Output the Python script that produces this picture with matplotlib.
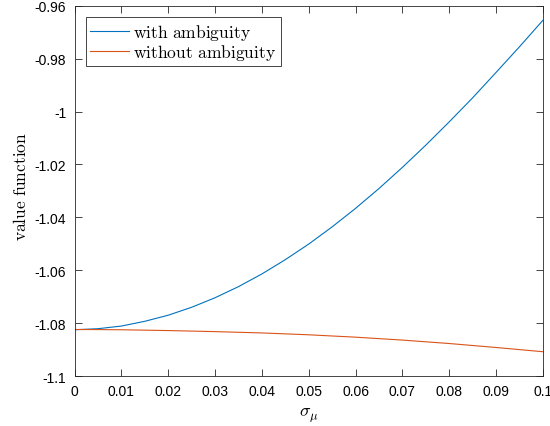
import matplotlib
matplotlib.use("Agg")
import matplotlib.pyplot as plt

# sigma_mu grid and value function
sigma_mu = [0.0, 0.005, 0.01, 0.015, 0.02, 0.025, 0.03, 0.035, 0.04, 0.045, 0.05,
            0.055, 0.06, 0.065, 0.07, 0.075, 0.08, 0.085, 0.09, 0.095, 0.1]
with_amb = [-1.0825, -1.0821, -1.0811, -1.0793, -1.0770, -1.0740, -1.0704, -1.0662,
            -1.0614, -1.0560, -1.0501, -1.0436, -1.0366, -1.0291, -1.0211, -1.0127,
            -1.0039, -0.9948, -0.9852, -0.9755, -0.9655]
without_amb = [-1.0824, -1.08243, -1.0825, -1.08265, -1.0828, -1.0830, -1.0832, -1.08345,
               -1.0837, -1.08405, -1.0844, -1.08485, -1.0853, -1.08585, -1.0864, -1.08705,
               -1.0877, -1.08845, -1.0892, -1.0900, -1.0908]

xticks = [0, 0.01, 0.02, 0.03, 0.04, 0.05, 0.06, 0.07, 0.08, 0.09, 0.1]
xticklabels = ["0", "0.01", "0.02", "0.03", "0.04", "0.05", "0.06", "0.07", "0.08", "0.09", "0.1"]
yticks = [-1.1, -1.08, -1.06, -1.04, -1.02, -1.0, -0.98, -0.96]
yticklabels = ["-1.1", "-1.08", "-1.06", "-1.04", "-1.02", "-1", "-0.98", "-0.96"]

axcol = (0.15, 0.15, 0.15)
plt.rcParams['mathtext.fontset'] = 'cm'

fig = plt.figure(figsize=(5.5, 4.27), dpi=100)
ax = fig.add_axes([0.1355, 0.117, 0.8515, 0.867])

ax.plot(sigma_mu, with_amb, color='#0072BD', linewidth=0.8,
        label=r'$\mathrm{with\ ambiguity}$')
ax.plot(sigma_mu, without_amb, color='#D95319', linewidth=0.8,
        label=r'$\mathrm{without\ ambiguity}$')

ax.set_xlim(0, 0.1)
ax.set_ylim(-1.1, -0.96)
ax.set_xticks(xticks)
ax.set_xticklabels(xticklabels, fontfamily='Liberation Sans', fontsize=10)
ax.set_yticks(yticks)
ax.set_yticklabels(yticklabels, fontfamily='Liberation Sans', fontsize=10)
ax.tick_params(direction='in', length=5, width=0.6, colors=axcol, top=True, right=True,
               labelcolor='black', pad=6)
for s in ax.spines.values():
    s.set_color(axcol)
    s.set_linewidth(0.6)

ax.set_xlabel(r'$\sigma_\mu$', fontsize=13, labelpad=5)
ax.set_ylabel(r'$\mathrm{value\ function}$', fontsize=12.5)
ax.yaxis.set_label_coords(-0.095, 0.515)

leg = ax.legend(loc='upper left', bbox_to_anchor=(0.024, 0.969),
                prop={'size': 12.6},
                fancybox=False, framealpha=1, borderpad=0.25, labelspacing=0.02,
                handlelength=2.2, handletextpad=0.27, borderaxespad=0)
leg.get_frame().set_edgecolor(axcol)
leg.get_frame().set_linewidth(0.6)

fig.savefig('out.png', dpi=100)
